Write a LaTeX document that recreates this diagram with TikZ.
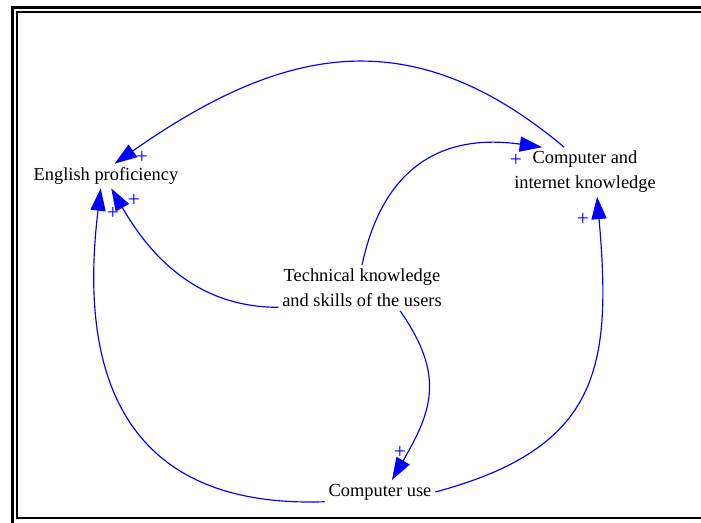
\documentclass[tikz,border=0pt]{standalone}
\usepackage{fontspec}
\setmainfont{Liberation Serif}
\usetikzlibrary{arrows.meta, positioning}

\begin{document}
\begin{tikzpicture}[x=0.56pt, y=-0.56pt,
  var/.style={font=\fontsize{10.3}{14}\selectfont, align=center, inner sep=2pt},
  link/.style={blue, line width=0.65pt, -{Triangle[length=12.5pt,width=8.5pt]}},
  sign/.style={blue, font=\fontsize{12}{14}\selectfont, inner sep=0pt}]
\useasboundingbox (0,0) rectangle (701,522);
\clip (0,0) rectangle (701,522);

% Frame
\draw[line width=1.7pt] (12.5,530) -- (12.5,7.5) -- (710,7.5);
\draw[line width=1.1pt] (710,12) -- (17,12) -- (17,518) -- (710,518);

% Variables
\node[var] (eng) at (106,176) {English proficiency};
\node[var] (cik) at (585,172) {Computer and\\internet knowledge};
\node[var] (tech) at (362,288) {Technical knowledge\\and skills of the users};
\node[var] (use) at (380,492) {Computer use};

% Links
\draw[link] (cik.130) to[out=140,in=35,looseness=1.15] (eng.55);
\draw[link] (tech.north) to[out=78,in=172,looseness=1.2] (cik.150);
\draw[link] (tech.193) to[out=180,in=-60] (eng.-67);
\draw[link] (use.190) to[out=182,in=-97,looseness=1.3] (eng.-113);
\draw[link] (tech.-31) to[out=-55,in=60,looseness=1.2] (use.45);
\draw[link] (use.east) to[out=15,in=-85,looseness=1.3] (cik.-64);

% Polarities
\node[sign] (s1) at (142,157) {+};
\node[sign] (s2) at (113,213) {+};
\node[sign] (s3) at (134,200) {+};
\node[sign] (s4) at (516,160) {+};
\node[sign] (s5) at (583,219) {+};
\node[sign] (s6) at (400,452) {+};
\end{tikzpicture}
\end{document}
